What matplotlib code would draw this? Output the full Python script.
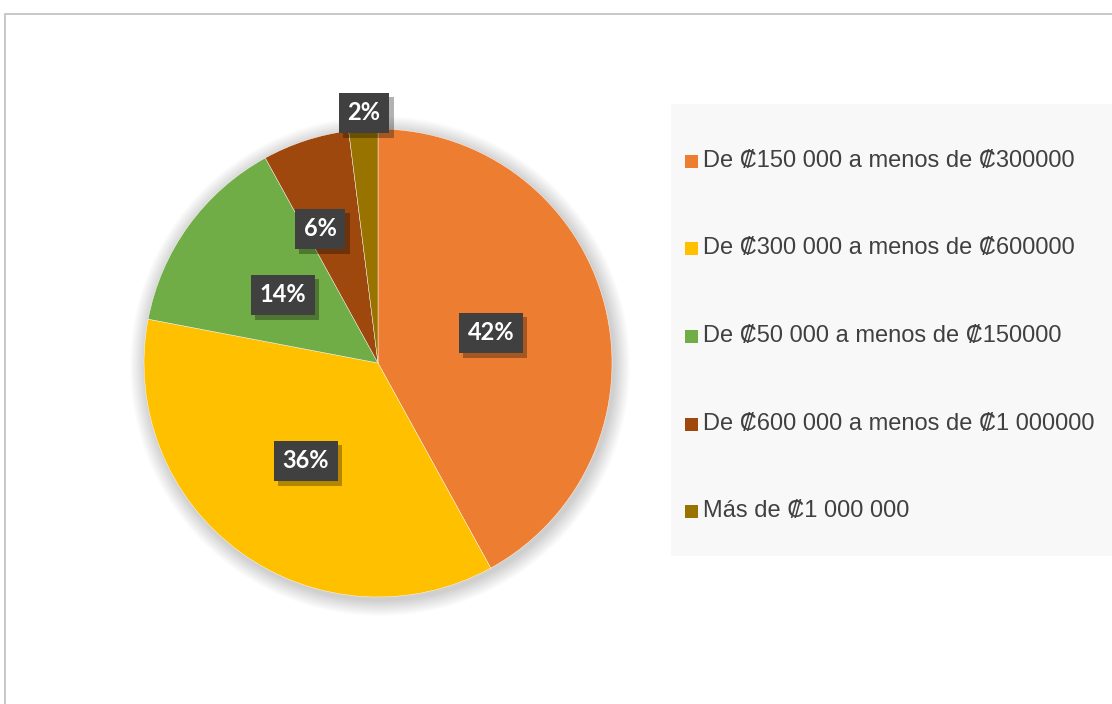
import matplotlib
matplotlib.use('Agg')
import matplotlib.pyplot as plt
from matplotlib.patches import Rectangle, Circle
import matplotlib.patheffects as pe

# data
categories = ['De ₡150 000 a menos de ₡300000',
              'De ₡300 000 a menos de ₡600000',
              'De ₡50 000 a menos de ₡150000',
              'De ₡600 000 a menos de ₡1 000000',
              'Más de ₡1 000 000']
shares = [42, 36, 14, 6, 2]
colors = ['#ED7D31', '#FFC000', '#70AD47', '#9E480E', '#997300']

W, H = 1112, 704
fig = plt.figure(figsize=(W / 100, H / 100), dpi=100)
ax = fig.add_axes([0, 0, 1, 1])

# chart border
ax.add_patch(Rectangle((4.5, -10), W + 20, H - 13.5 + 10, fill=False,
                       edgecolor='#bfbfbf', linewidth=1.2))

cx, cy, r = 378, H - 363, 234

# soft shadow round the pie
for k in range(16):
    ax.add_patch(Circle((cx + 2, cy - 3), r + 16 - k, color='#000000',
                        alpha=0.011, linewidth=0, zorder=1))

wedges, _ = ax.pie(shares, colors=colors, startangle=90, counterclock=False,
                   center=(cx, cy), radius=r, frame=True,
                   wedgeprops=dict(edgecolor='white', linewidth=0.3))
for w in wedges:
    w.set_zorder(2)
ax.set_xlim(0, W)
ax.set_ylim(0, H)
ax.set_aspect('equal')
ax.axis('off')

# data labels (positions in pixels from top-left)
label_pos = [(491, 333), (306, 461), (283, 295), (320, 229), (364, 113)]
for val, (lx, ly) in zip(shares, label_pos):
    t = ax.text(lx, H - ly, f'{val}%', ha='center', va='center', fontsize=17,
                fontweight='bold', family=['Lato', 'DejaVu Sans'], color='white',
                bbox=dict(boxstyle='square,pad=0.38', facecolor='#404040',
                          edgecolor='none'), zorder=5)
    t.get_bbox_patch().set_path_effects(
        [pe.SimplePatchShadow(offset=(3, -3), shadow_rgbFace='black', alpha=0.3),
         pe.Normal()])

# legend panel
ax.add_patch(Rectangle((671, H - 556), W - 671 + 5, 556 - 104,
                       facecolor='#f8f8f8', edgecolor='none', zorder=1))
row_y = [161, 248, 336, 424, 511]
for lab, col, y in zip(categories, colors, row_y):
    ax.add_patch(Rectangle((685, H - y - 6.5), 13, 13, facecolor=col,
                           edgecolor='none', zorder=3))
    ax.text(703, H - y, lab, ha='left', va='center', fontsize=17,
            family=['Liberation Sans', 'DejaVu Sans'], color='#404040', zorder=3)

fig.savefig('out.png', dpi=100)
